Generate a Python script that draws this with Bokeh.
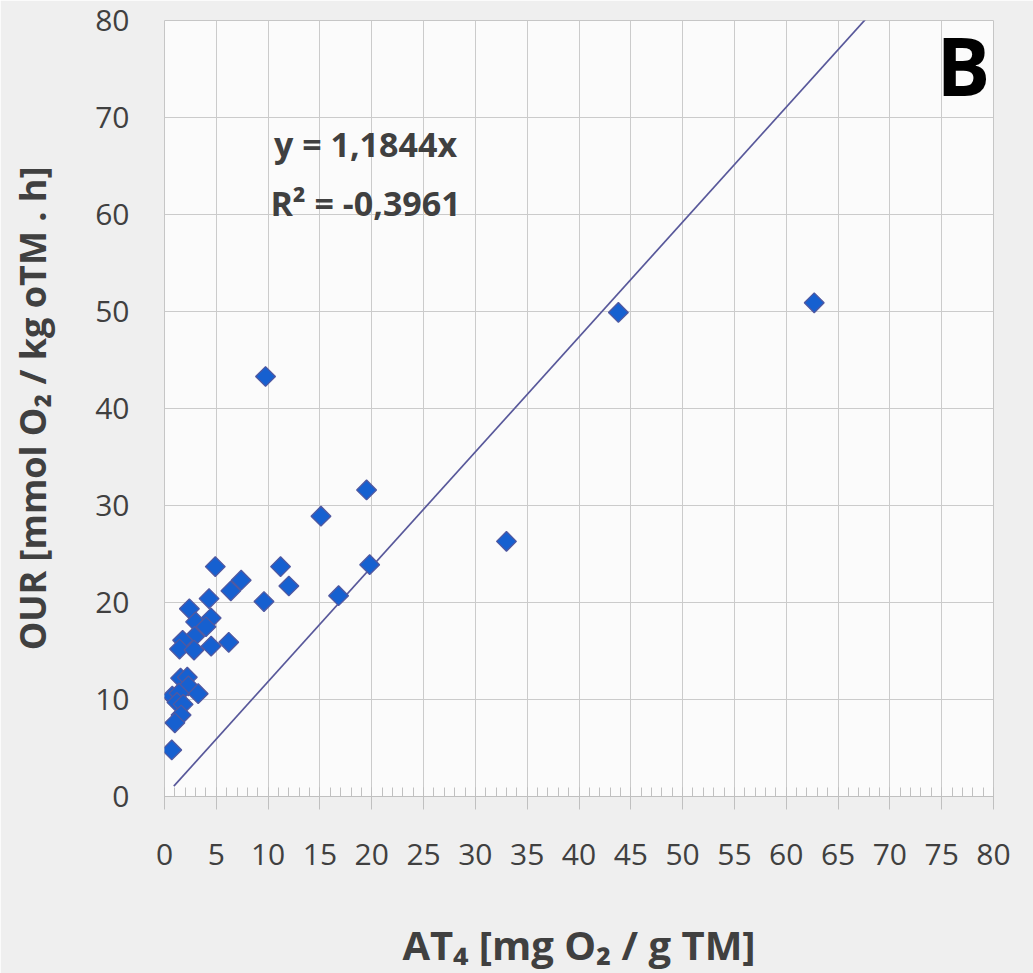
from bokeh.plotting import figure
from bokeh.models import Range1d, SingleIntervalTicker, Label, ColumnDataSource
from bokeh.embed import file_html
from bokeh.resources import INLINE
import numpy as np

# ---- data ----
at4 = [9.75, 43.8, 62.7, 19.5, 15.1, 33.0, 19.8, 16.8, 9.6, 11.2, 12.0, 7.4, 6.4, 6.2,
       4.9, 4.3, 2.4, 3.0, 4.5, 4.0, 2.9, 1.75, 1.45, 2.85, 4.5,
       1.55, 2.2, 2.3, 3.25, 0.75, 1.4, 1.2, 1.8, 1.6, 1.0, 0.7]
our = [43.3, 49.9, 50.9, 31.6, 28.9, 26.3, 23.9, 20.7, 20.1, 23.7, 21.7, 22.3, 21.2, 15.9,
       23.7, 20.4, 19.35, 18.0, 18.4, 17.5, 16.5, 16.1, 15.2, 15.1, 15.5,
       12.2, 12.3, 11.4, 10.6, 10.35, 10.65, 9.7, 9.5, 8.4, 7.6, 4.8]
slope = 1.1844
r2_text = "R² = -0,3961"
eq_text = "y = 1,1844x"
trend_x = [0.9, 80.0]
trend_y = [slope * v for v in trend_x]
panel_letter = "B"
x_title = "AT₄ [mg O₂ / g TM]"
y_title = "OUR [mmol O₂ / kg oTM . h]"

FONT = "Open Sans"
GREY = "#404040"

p = figure(frame_width=829, frame_height=776,
           min_border_left=164, min_border_right=40, min_border_top=20, min_border_bottom=177,
           x_range=Range1d(0, 80), y_range=Range1d(0, 80),
           output_backend="svg", toolbar_location=None)

p.border_fill_color = "#efefef"
p.background_fill_color = "#fbfbfb"
p.outline_line_color = "#c6c6c6"
p.outline_line_width = 1

# grids
p.xgrid.ticker = SingleIntervalTicker(interval=5)
p.ygrid.ticker = SingleIntervalTicker(interval=10)
p.xgrid.grid_line_color = "#cbcbcb"
p.ygrid.grid_line_color = "#cbcbcb"

# x axis
xa = p.xaxis[0]
xa.ticker = SingleIntervalTicker(interval=5, num_minor_ticks=5)
xa.axis_line_color = "#c0c0c0"
xa.major_tick_line_color = "#c0c0c0"
xa.minor_tick_line_color = "#c0c0c0"
xa.major_tick_in = 9
xa.major_tick_out = 13
xa.minor_tick_in = 9
xa.minor_tick_out = 0
xa.major_label_standoff = 34
xa.major_label_text_font = FONT
xa.major_label_text_font_size = "30px"
xa.major_label_text_color = GREY
xa.axis_label = x_title
xa.axis_label_text_font = FONT
xa.axis_label_text_font_style = "bold"
xa.axis_label_text_font_size = "40px"
xa.axis_label_text_color = GREY
xa.axis_label_standoff = 49

# y axis
ya = p.yaxis[0]
ya.ticker = SingleIntervalTicker(interval=10)
ya.axis_line_color = None
ya.major_tick_line_color = None
ya.minor_tick_line_color = None
ya.major_tick_in = 0
ya.major_tick_out = 0
ya.major_label_standoff = 31
ya.major_label_text_font = FONT
ya.major_label_text_font_size = "30px"
ya.major_label_text_color = GREY
ya.axis_label = y_title
ya.axis_label_text_font = FONT
ya.axis_label_text_font_style = "bold"
ya.axis_label_text_font_size = "36px"
ya.axis_label_text_color = GREY
ya.axis_label_standoff = 35

# trend line
p.line(trend_x, trend_y, line_color="#58589a", line_width=1.7)

# points
src = ColumnDataSource(dict(x=at4, y=our))
p.scatter("x", "y", source=src, marker="square", angle=np.pi / 4, size=14,
          fill_color="#1660d0", line_color="#5058a0", line_width=1.3)

# equation labels
p.add_layout(Label(x=19.4, y=67.3, text=eq_text, text_font=FONT, text_font_style="bold",
                   text_font_size="34px", text_color=GREY, text_align="center",
                   text_baseline="middle"))
p.add_layout(Label(x=19.4, y=61.2, text=r2_text, text_font=FONT, text_font_style="bold",
                   text_font_size="34px", text_color=GREY, text_align="center",
                   text_baseline="middle"))

# panel letter
p.add_layout(Label(x=77.1, y=75.5, text=panel_letter, text_font=FONT, text_font_style="bold",
                   text_font_size="80px", text_color="#000000", text_align="center",
                   text_baseline="middle"))

open("out.html", "w").write(file_html(p, INLINE))
